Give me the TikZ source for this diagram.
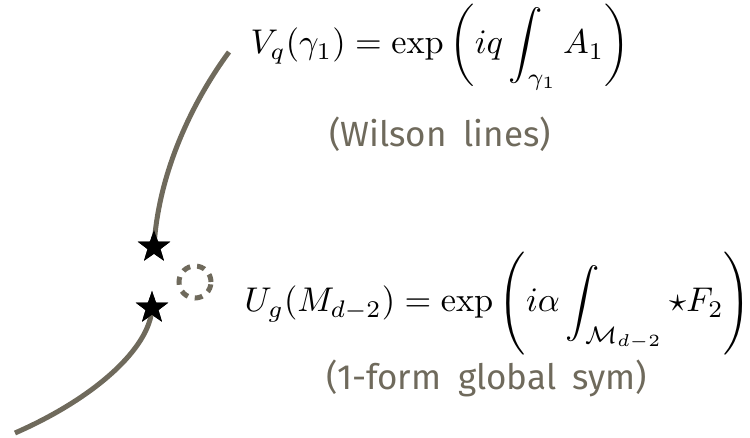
\documentclass[tikz,border=0pt]{standalone}
\usepackage{amsmath}
\usepackage{fontspec}
\newfontfamily\handfont[WordSpace=1.8]{Fira Sans}
\usetikzlibrary{shapes.geometric}
\definecolor{linegray}{RGB}{111,106,92}
\tikzset{
  lineop/.style={line width=5pt, linegray},
  opstar/.style={star, star points=5, star point ratio=2.5, fill=black, inner sep=0pt, minimum size=34pt},
  formula/.style={scale=3.43, transform shape, inner sep=0pt},
  handnote/.style={font=\handfont\fontsize{35}{40}\selectfont, text=linegray, inner sep=0pt}
}
\begin{document}
\begin{tikzpicture}[x=1pt, y=1pt]
    \useasboundingbox (0,0) rectangle (750,438);

    % End points of the line and the two operator insertions
    \coordinate (top) at (229,386);
    \coordinate (bottom) at (15,5);
    \node[opstar] (star1) at (154,191) {};
    \node[opstar] (star2) at (152,130) {};

    % The line operator, cut open between the stars
    \draw[lineop, line cap=butt] (top) .. controls (190,333) and (158,262) .. (star1.center);
    \draw[lineop, line cap=butt] (star2.center) .. controls (150,90) and (95,40) .. (bottom);
    \node[opstar] at (star1) {};
    \node[opstar] at (star2) {};

    % Linking surface around the gap
    \draw[lineop, dashed, dash pattern=on 8pt off 7pt] (195,156) circle (16);

    % Labels
    \node[formula, anchor=base west] (wilson) at (250,384)
      {$\displaystyle V_q(\gamma_1) = \exp\left(iq\int_{\gamma_1} A_1\right)$};
    \node[handnote, anchor=base] (wilsonnote) at (440,291) {(Wilson lines)};
    \node[formula, anchor=base west] (sym) at (244,126)
      {$\displaystyle U_g(M_{d-2}) = \exp\left(i\alpha\int_{\mathcal{M}_{d-2}} \star F_2\right)$};
    \node[handnote, anchor=base] (symnote) at (487,48) {(1-form global sym)};
  \end{tikzpicture}
\end{document}
